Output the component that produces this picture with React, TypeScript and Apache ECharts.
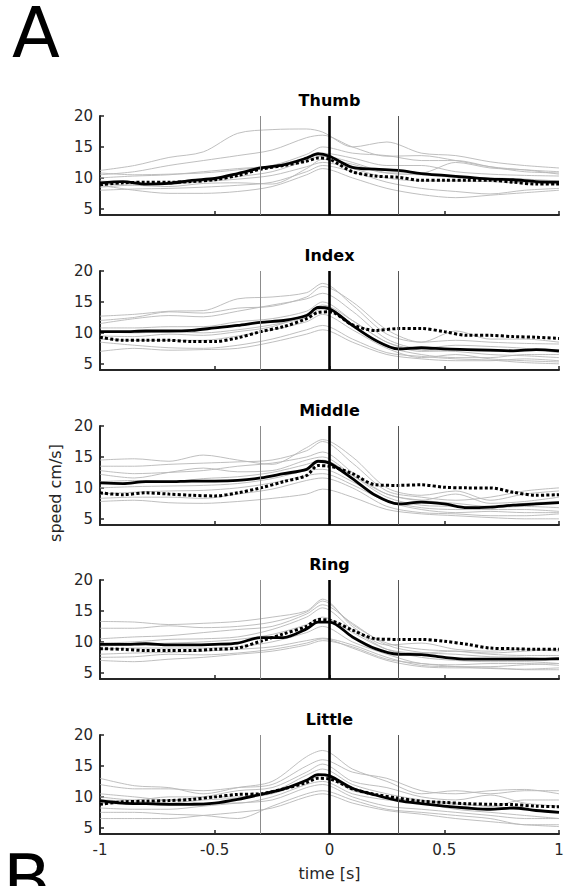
import React, { useEffect, useRef } from 'react';
import * as echarts from 'echarts';

// ---------- data ----------
const FINGERS = ['Thumb', 'Index', 'Middle', 'Ring', 'Little'];
const X_TICKS = [-1, -0.5, 0, 0.5, 1];
const Y_TICKS = [5, 10, 15, 20];
const EVENT_LINES = [-0.3, 0, 0.3];

// time points for mean curves
const MEAN_T = [-1, -0.9, -0.8, -0.7, -0.6, -0.5, -0.4, -0.3, -0.2, -0.1, -0.05, 0, 0.1, 0.2, 0.3, 0.4, 0.5, 0.6, 0.7, 0.8, 0.9, 1];
// time points for individual traces
const TRACE_T = [-1, -0.85, -0.7, -0.55, -0.4, -0.25, -0.1, -0.03, 0.1, 0.25, 0.4, 0.55, 0.7, 0.85, 1];

const THUMB_SOLID = [9.2, 9.4, 9.0, 9.1, 9.6, 9.9, 10.7, 11.6, 12.1, 13.2, 13.9, 13.5, 11.7, 11.4, 11.2, 10.7, 10.4, 10.1, 9.8, 9.7, 9.4, 9.3];
const THUMB_DOTTED = [8.9, 9.2, 9.3, 9.3, 9.4, 9.7, 10.4, 11.4, 12.0, 12.7, 13.2, 13.0, 11.0, 10.3, 10.1, 9.6, 9.6, 9.6, 9.6, 9.3, 9.0, 9.0];
const INDEX_SOLID = [10.2, 10.2, 10.3, 10.3, 10.4, 10.8, 11.2, 11.7, 12.0, 12.8, 14.1, 13.9, 11.2, 8.8, 7.4, 7.6, 7.4, 7.3, 7.2, 7.1, 7.3, 7.1];
const INDEX_DOTTED = [9.3, 8.8, 8.8, 8.8, 8.6, 8.6, 9.2, 10.2, 11.0, 12.3, 13.3, 13.4, 11.3, 10.4, 10.7, 10.7, 10.2, 9.6, 9.6, 9.4, 9.3, 9.1];
const MIDDLE_SOLID = [10.8, 10.7, 11.0, 11.0, 11.1, 11.1, 11.2, 11.6, 12.3, 13.0, 14.3, 14.0, 11.5, 8.8, 7.4, 7.7, 7.4, 6.8, 6.9, 7.2, 7.4, 7.6];
const MIDDLE_DOTTED = [9.2, 8.9, 9.2, 9.0, 8.8, 8.7, 9.2, 10.0, 11.0, 12.0, 13.6, 13.5, 12.3, 10.5, 10.4, 10.5, 10.1, 10.0, 10.0, 9.3, 8.8, 8.9];
const RING_SOLID = [9.6, 9.6, 9.7, 9.5, 9.5, 9.6, 9.8, 10.7, 10.7, 12.1, 13.2, 13.2, 10.8, 8.9, 8.0, 7.95, 7.5, 7.2, 7.2, 7.2, 7.2, 7.3];
const RING_DOTTED = [8.9, 8.8, 8.6, 8.6, 8.6, 8.8, 9.0, 10.1, 11.3, 12.5, 13.6, 13.5, 11.9, 10.5, 10.4, 10.4, 10.1, 9.6, 9.0, 8.9, 8.8, 8.8];
const LITTLE_SOLID = [9.4, 9.0, 8.9, 8.8, 8.8, 9.0, 9.6, 10.4, 11.3, 12.7, 13.6, 13.4, 11.4, 10.3, 9.4, 8.9, 8.5, 8.2, 8.0, 8.2, 7.8, 7.5];
const LITTLE_DOTTED = [8.8, 9.2, 9.3, 9.4, 9.6, 10.0, 10.4, 10.5, 11.3, 12.3, 13.0, 12.9, 11.3, 10.4, 9.8, 9.3, 9.1, 8.9, 8.8, 8.75, 8.5, 8.4];

const THUMB_TRACES = [
  [11.2, 12.0, 13.3, 14.2, 17.2, 17.8, 17.9, 17.4, 15.0, 15.8, 14.0, 13.6, 12.6, 12.0, 11.6],
  [10.5, 11.0, 12.0, 12.8, 13.6, 14.5, 16.5, 16.9, 15.0, 13.5, 13.6, 12.8, 11.8, 11.3, 11.0],
  [10.0, 10.3, 10.5, 11.0, 11.5, 12.0, 13.8, 15.0, 14.0, 13.6, 12.8, 12.8, 11.8, 11.0, 10.8],
  [8.8, 8.0, 7.5, 7.5, 7.8, 8.6, 10.5, 11.5, 10.0, 8.3, 7.3, 6.8, 7.2, 7.6, 8.0],
  [8.0, 8.2, 8.3, 8.5, 8.8, 9.3, 11.0, 12.0, 11.0, 9.3, 8.3, 7.8, 7.4, 8.0, 8.3],
  [9.5, 9.2, 9.0, 9.4, 9.8, 10.4, 11.8, 12.5, 11.5, 10.0, 9.5, 9.5, 9.4, 9.2, 9.0],
  [10.8, 10.5, 10.6, 10.8, 11.3, 12.0, 13.2, 14.0, 13.2, 12.0, 12.0, 11.0, 10.6, 10.4, 10.3],
  [9.0, 8.8, 8.6, 9.1, 9.2, 9.0, 11.5, 13.0, 12.2, 10.8, 10.8, 12.5, 11.6, 11.3, 10.6],
  [8.5, 8.9, 9.3, 9.6, 10.2, 11.0, 12.8, 13.5, 12.5, 10.8, 10.5, 10.1, 10.0, 9.8, 9.5],
];
const INDEX_TRACES = [
  [12.7, 13.0, 13.5, 13.6, 15.5, 15.8, 16.5, 18.0, 14.5, 9.8, 8.5, 8.8, 8.5, 8.3, 8.2],
  [12.0, 12.5, 13.4, 13.2, 14.0, 14.3, 15.8, 17.5, 15.0, 10.5, 8.5, 10.3, 9.0, 9.0, 8.5],
  [11.5, 12.3, 12.8, 12.6, 13.5, 14.5, 15.5, 16.4, 13.5, 9.0, 7.5, 8.0, 7.8, 7.5, 6.8],
  [10.8, 10.8, 11.0, 11.0, 11.8, 12.3, 13.5, 15.0, 12.0, 8.5, 7.2, 7.0, 6.5, 6.3, 6.0],
  [10.2, 10.0, 10.2, 10.0, 10.5, 11.3, 12.5, 14.0, 11.0, 7.8, 6.5, 6.0, 6.0, 6.5, 6.5],
  [9.0, 8.8, 8.8, 8.8, 9.5, 10.5, 11.8, 13.0, 10.5, 7.5, 6.0, 6.5, 5.8, 5.5, 5.3],
  [8.5, 8.0, 7.6, 7.5, 8.0, 9.0, 10.5, 11.2, 9.0, 6.8, 6.2, 5.8, 5.6, 5.2, 5.0],
  [7.0, 7.5, 7.2, 7.3, 7.5, 8.5, 9.8, 10.5, 8.5, 6.5, 5.8, 5.5, 5.5, 5.8, 5.5],
  [9.5, 9.4, 9.8, 9.6, 10.2, 11.0, 13.0, 14.5, 12.0, 8.5, 7.0, 7.2, 7.0, 7.2, 7.2],
];
const MIDDLE_TRACES = [
  [14.5, 14.7, 14.3, 15.3, 14.5, 13.8, 16.5, 17.8, 15.0, 10.0, 8.8, 9.5, 8.0, 9.0, 9.5],
  [13.5, 13.5, 13.8, 14.0, 14.2, 14.5, 16.0, 17.5, 14.0, 9.5, 8.5, 8.0, 8.5, 9.5, 10.0],
  [12.8, 12.3, 12.5, 12.8, 13.5, 14.0, 15.0, 15.8, 12.5, 9.0, 8.0, 7.5, 7.0, 7.5, 7.8],
  [12.2, 11.6, 12.5, 13.2, 12.6, 12.8, 14.5, 15.0, 12.0, 8.5, 7.2, 7.0, 6.8, 7.0, 6.8],
  [10.0, 10.2, 10.3, 10.4, 10.7, 11.5, 12.8, 13.0, 11.0, 8.0, 6.8, 6.5, 6.5, 6.5, 6.2],
  [9.0, 9.3, 9.5, 9.6, 10.0, 10.8, 12.0, 12.3, 10.5, 7.8, 6.5, 6.0, 6.2, 6.0, 6.0],
  [8.3, 8.5, 8.5, 8.3, 9.0, 9.8, 11.2, 11.6, 10.0, 7.0, 6.0, 5.8, 5.5, 5.5, 5.8],
  [7.8, 8.0, 7.6, 7.5, 7.8, 8.3, 9.0, 9.8, 8.5, 6.5, 5.8, 5.5, 5.2, 5.0, 5.0],
  [11.0, 11.2, 11.0, 11.5, 11.8, 12.5, 13.8, 14.5, 12.0, 9.0, 8.0, 9.0, 7.5, 7.8, 8.5],
];
const RING_TRACES = [
  [13.3, 13.2, 12.8, 13.0, 13.3, 14.0, 15.0, 16.9, 12.5, 9.5, 9.8, 8.8, 8.5, 8.8, 8.5],
  [12.2, 12.2, 12.6, 12.3, 12.5, 13.2, 14.8, 16.6, 12.8, 9.8, 8.8, 8.5, 8.0, 7.8, 7.8],
  [10.5, 10.8, 11.0, 11.5, 12.0, 12.5, 14.5, 16.0, 13.0, 9.5, 8.3, 8.0, 7.6, 7.5, 7.0],
  [9.8, 10.0, 10.4, 10.5, 10.8, 12.0, 14.0, 15.5, 12.0, 8.8, 7.5, 7.0, 6.8, 6.8, 6.5],
  [8.8, 9.0, 9.0, 9.0, 9.2, 10.0, 11.5, 12.5, 10.0, 8.0, 6.5, 6.3, 6.5, 6.5, 6.2],
  [8.0, 8.2, 8.3, 8.5, 8.8, 9.2, 10.2, 10.6, 9.5, 7.5, 6.2, 6.0, 6.0, 6.3, 6.5],
  [7.5, 7.6, 8.0, 7.9, 8.2, 8.8, 9.8, 10.5, 9.0, 7.0, 6.0, 5.8, 5.8, 5.5, 5.5],
  [7.0, 6.8, 7.2, 7.5, 8.0, 8.5, 9.5, 10.2, 9.2, 7.2, 6.5, 6.0, 5.7, 5.6, 5.8],
  [9.3, 9.6, 9.8, 10.0, 10.4, 11.2, 12.8, 14.0, 11.5, 8.8, 8.2, 8.5, 8.2, 8.5, 8.8],
];
const LITTLE_TRACES = [
  [13.0, 11.8, 11.5, 10.5, 11.5, 12.5, 16.5, 17.5, 14.5, 12.5, 10.5, 11.0, 10.5, 11.0, 11.0],
  [12.0, 11.3, 11.3, 11.0, 11.5, 12.0, 15.0, 16.0, 14.0, 13.0, 11.0, 10.5, 11.0, 11.2, 10.5],
  [10.5, 10.0, 9.5, 10.0, 11.0, 11.5, 14.0, 15.3, 12.5, 11.5, 10.0, 9.5, 10.3, 9.0, 8.5],
  [10.0, 9.5, 10.0, 10.0, 10.0, 10.8, 13.5, 14.5, 12.0, 10.5, 9.5, 9.0, 8.5, 9.5, 9.5],
  [9.0, 8.8, 9.5, 9.0, 9.0, 10.0, 12.0, 12.5, 10.5, 9.5, 9.0, 8.0, 7.5, 7.0, 6.5],
  [8.2, 8.0, 8.0, 8.5, 9.0, 9.5, 11.5, 12.0, 10.0, 8.5, 8.0, 7.5, 7.0, 6.5, 6.5],
  [7.5, 7.5, 7.2, 7.0, 6.5, 8.5, 10.5, 11.0, 9.5, 8.0, 7.5, 7.0, 6.5, 5.5, 5.5],
  [6.5, 6.5, 6.5, 7.0, 7.5, 8.2, 10.0, 10.5, 9.0, 7.8, 7.2, 6.5, 6.0, 5.5, 5.2],
  [9.5, 9.3, 9.0, 9.5, 9.8, 10.5, 12.5, 13.5, 11.0, 10.0, 9.3, 8.8, 8.5, 8.0, 7.5],
];

const SOLID = [THUMB_SOLID, INDEX_SOLID, MIDDLE_SOLID, RING_SOLID, LITTLE_SOLID];
const DOTTED = [THUMB_DOTTED, INDEX_DOTTED, MIDDLE_DOTTED, RING_DOTTED, LITTLE_DOTTED];
const TRACES = [THUMB_TRACES, INDEX_TRACES, MIDDLE_TRACES, RING_TRACES, LITTLE_TRACES];

// ---------- layout ----------
const FONT = '"DejaVu Sans", sans-serif';
const GRID_LEFT = 100;
const GRID_WIDTH = 459;
const GRID_TOPS = [116, 271, 426, 580, 735];
const GRID_HEIGHT = 99;
const AXIS_COLOR = '#262626';

export default function App() {
  const ref = useRef<HTMLDivElement>(null);

  useEffect(() => {
    if (!ref.current) return;
    const chart = echarts.init(ref.current, null, { renderer: 'svg' });

    const grids = GRID_TOPS.map((top) => ({ left: GRID_LEFT, top, width: GRID_WIDTH, height: GRID_HEIGHT, containLabel: false }));

    const xAxes = GRID_TOPS.map((_, p) => ({
      type: 'value',
      gridIndex: p,
      min: -1,
      max: 1,
      interval: 0.5,
      axisLine: { show: true, onZero: false, lineStyle: { color: AXIS_COLOR, width: 2 } },
      axisTick: { show: true, inside: true, length: 4, customValues: X_TICKS, lineStyle: { color: AXIS_COLOR, width: 1.5 } },
      axisLabel: {
        show: p === GRID_TOPS.length - 1,
        customValues: X_TICKS,
        color: AXIS_COLOR,
        fontSize: 15,
        fontFamily: FONT,
        margin: 8,
        formatter: (v: number) => String(v),
      },
      splitLine: { show: false },
    }));

    const yAxes = GRID_TOPS.map((_, p) => ({
      type: 'value',
      gridIndex: p,
      min: 4,
      max: 20,
      axisLine: { show: true, onZero: false, lineStyle: { color: AXIS_COLOR, width: 2 } },
      axisTick: { show: true, inside: true, length: 4, customValues: Y_TICKS, lineStyle: { color: AXIS_COLOR, width: 1.5 } },
      axisLabel: { customValues: Y_TICKS, color: AXIS_COLOR, fontSize: 15, fontFamily: FONT, margin: 7 },
      splitLine: { show: false },
    }));

    const series: any[] = [];
    FINGERS.forEach((_, p) => {
      TRACES[p].forEach((tr, k) => {
        series.push({
          type: 'line',
          name: `${FINGERS[p]} trial ${k + 1}`,
          xAxisIndex: p,
          yAxisIndex: p,
          data: TRACE_T.map((t, i) => [t, tr[i]]),
          showSymbol: false,
          smooth: 0.3,
          silent: true,
          z: 1,
          lineStyle: { color: '#b8b8b8', width: 0.9 },
        });
      });
      series.push({
        type: 'line',
        xAxisIndex: p,
        yAxisIndex: p,
        data: [],
        silent: true,
        z: 2,
        markLine: {
          symbol: 'none',
          silent: true,
          label: { show: false },
          animation: false,
          data: EVENT_LINES.map((x, i) => ({
            xAxis: x,
            lineStyle: i === 1
              ? { color: '#000', width: 2.6, type: 'solid' }
              : { color: i === 0 ? '#8c8c8c' : '#555555', width: 1, type: 'solid' },
          })),
        },
      });
      series.push({
        type: 'line',
        name: `${FINGERS[p]} dotted`,
        xAxisIndex: p,
        yAxisIndex: p,
        data: MEAN_T.map((t, i) => [t, DOTTED[p][i]]),
        showSymbol: false,
        smooth: 0.3,
        silent: true,
        z: 3,
        lineStyle: { color: '#000', width: 3, type: [3, 2.2], cap: 'butt' },
      });
      series.push({
        type: 'line',
        name: `${FINGERS[p]} solid`,
        xAxisIndex: p,
        yAxisIndex: p,
        data: MEAN_T.map((t, i) => [t, SOLID[p][i]]),
        showSymbol: false,
        smooth: 0.3,
        silent: true,
        z: 4,
        lineStyle: { color: '#000', width: 2.8 },
      });
    });

    const centerX = GRID_LEFT + GRID_WIDTH / 2;
    const graphic: any[] = [
      ...FINGERS.map((name, p) => ({
        type: 'text',
        x: centerX,
        y: GRID_TOPS[p] - 16,
        style: { text: name, align: 'center', verticalAlign: 'middle', font: `bold 16px ${FONT}`, fill: '#000' },
      })),
      { type: 'text', x: 12, y: 33, style: { text: 'A', align: 'left', verticalAlign: 'middle', font: `70px ${FONT}`, lineHeight: 60, fill: '#000' } },
      { type: 'text', x: 3, y: 880, style: { text: 'B', align: 'left', verticalAlign: 'middle', font: `70px ${FONT}`, fill: '#000' } },
      { type: 'text', x: centerX, y: 873, style: { text: 'time [s]', align: 'center', verticalAlign: 'middle', font: `16px ${FONT}`, fill: AXIS_COLOR } },
      { type: 'text', x: 55, y: 493, rotation: Math.PI / 2, style: { text: 'speed cm/s]', align: 'center', verticalAlign: 'middle', font: `16px ${FONT}`, fill: AXIS_COLOR } },
    ];

    chart.setOption({
      animation: false,
      backgroundColor: '#fff',
      grid: grids,
      xAxis: xAxes,
      yAxis: yAxes,
      series,
      graphic,
    });

    return () => chart.dispose();
  }, []);

  return <div ref={ref} style={{ position: 'absolute', left: 0, top: 0, width: 568, height: 886, background: '#fff' }} />;
}
